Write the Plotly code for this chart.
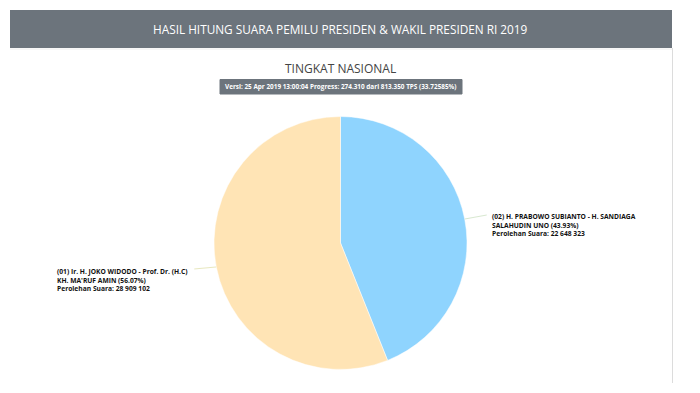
import math
import plotly.graph_objects as go

# ---- data ----
candidates = ["(02) H. PRABOWO SUBIANTO - H. SANDIAGA<br>SALAHUDIN UNO",
              "(01) Ir. H. JOKO WIDODO - Prof. Dr. (H.C)<br>KH. MA'RUF AMIN"]
votes = [22648323, 28909102]
colors = ["#8fd4fe", "#ffe4b5"]
header_title = "HASIL HITUNG SUARA PEMILU PRESIDEN & WAKIL PRESIDEN RI 2019"
sub_title = "TINGKAT NASIONAL"
version_text = "Versi: 25 Apr 2019 13:00:04 Progress: 274.310 dari 813.350 TPS (33.72585%)"

# page body has an 8px margin; figure is shrunk so it fits the window
OFF = 8
W, H = 700 - OFF, 393 - OFF
def px(x): return (x - OFF) / W
def py(y): return 1 - (y - OFF) / H

# pie geometry (window pixels)
cx, cy, r = 340.5, 243.0, 126.5

fig = go.Figure()
fig.add_trace(go.Pie(
    labels=[c.replace("<br>", " ") for c in candidates],
    values=votes,
    marker=dict(colors=colors, line=dict(color="white", width=0.5)),
    sort=False, direction="clockwise", rotation=0,
    textinfo="none", hoverinfo="label+value+percent",
    showlegend=False,
    domain=dict(x=[px(cx - r), px(cx + r)], y=[py(cy + r), py(cy - r)]),
))

def fmt(n):
    return f"{n:,}".replace(",", " ")

total = sum(votes)
shapes = []
annotations = []

# header bar
shapes.append(dict(type="rect", xref="paper", yref="paper",
                   x0=px(10), x1=px(672), y0=py(48), y1=py(10),
                   fillcolor="#6c747c", line=dict(width=0), layer="below"))
# card borders
shapes.append(dict(type="line", xref="paper", yref="paper",
                   x0=px(672.5), x1=px(672.5), y0=py(48), y1=py(383),
                   line=dict(color="#dcdcdc", width=1)))
shapes.append(dict(type="line", xref="paper", yref="paper",
                   x0=px(10), x1=px(672), y0=py(49), y1=py(49),
                   line=dict(color="#eeeeee", width=1)))
# version badge
bx0, bx1, by0, by1 = 220, 462, 79.5, 94
shapes.append(dict(type="rect", xref="paper", yref="paper",
                   x0=px(bx0), x1=px(bx1), y0=py(by1), y1=py(by0),
                   fillcolor="#6c747c", line=dict(color="#6c747c", width=1)))

annotations.append(dict(text=header_title, xref="paper", yref="paper",
                        x=px(340.5), y=py(29.5), xanchor="center", yanchor="middle",
                        showarrow=False,
                        font=dict(family="Open Sans", size=11.8, color="white")))
annotations.append(dict(text=sub_title, xref="paper", yref="paper",
                        x=px(340.5), y=py(68), xanchor="center", yanchor="middle",
                        showarrow=False,
                        font=dict(family="Open Sans", size=12, color="#444444")))
annotations.append(dict(text="<b>" + version_text + "</b>", xref="paper", yref="paper",
                        x=px((bx0 + bx1) / 2), y=py((by0 + by1) / 2),
                        xanchor="center", yanchor="middle", showarrow=False,
                        font=dict(family="Open Sans", size=6.4, color="white")))

# slice labels with leader lines
start = 0.0
for i, (name, v) in enumerate(zip(candidates, votes)):
    frac = v / total
    mid = (start + frac / 2) * 2 * math.pi
    start += frac
    ex = cx + r * math.sin(mid)
    ey = cy - r * math.cos(mid)
    right = math.sin(mid) > 0
    lx = ex + (22 if right else -22)
    ly = ey - 4 if right else ey + 2
    shapes.append(dict(type="line", xref="paper", yref="paper",
                       x0=px(ex), y0=py(ey), x1=px(lx), y1=py(ly),
                       line=dict(color="#d8e8d0" if right else "#e8e8c0", width=1)))
    txt = f"{name} ({frac*100:.2f}%)<br>Perolehan Suara: {fmt(v)}"
    annotations.append(dict(
        text="<b>" + txt + "</b>", xref="paper", yref="paper",
        x=px(lx + (3 if right else -4)), y=py(ly - (5 if right else 4)),
        xanchor="left" if right else "right", yanchor="top",
        align="left", showarrow=False,
        font=dict(family="Open Sans", size=6.7, color="#111111")))

fig.update_layout(
    width=W, height=H, margin=dict(l=0, r=0, t=0, b=0),
    paper_bgcolor="white", plot_bgcolor="white",
    shapes=shapes, annotations=annotations,
)
fig.write_html("out.html")
